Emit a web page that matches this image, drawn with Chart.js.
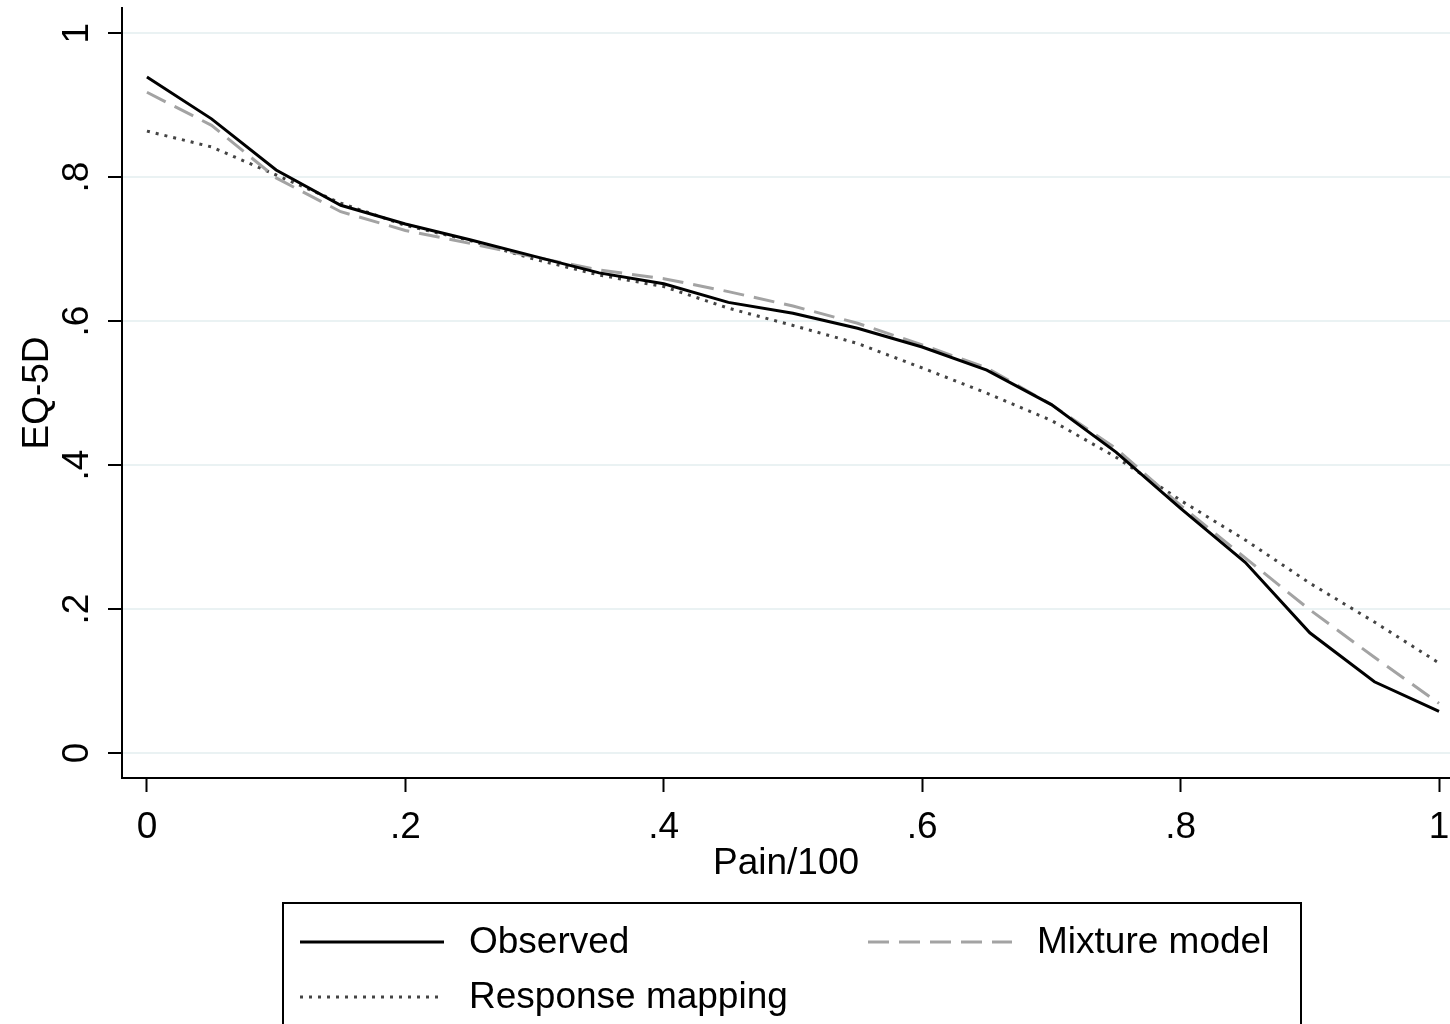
<!DOCTYPE html>
<html>
<head>
<meta charset="utf-8">
<script src="https://cdn.jsdelivr.net/npm/chart.js@4.4.1/dist/chart.umd.min.js"></script>
<style>
    body { margin: 0; background: #ffffff; }
    #wrap { width: 1450px; height: 1024px; }
</style>
</head>
<body>
<div id="wrap"><canvas id="myChart" width="1450" height="1024"></canvas></div>
<script>
// dane
const painX = [0, 0.05, 0.1, 0.15, 0.2, 0.25, 0.3, 0.35, 0.4, 0.45, 0.5,
    0.55, 0.6, 0.65, 0.7, 0.75, 0.8, 0.85, 0.9, 0.95, 1];
const observed = [0.939, 0.881, 0.810, 0.761, 0.735, 0.713, 0.690, 0.667, 0.652, 0.626, 0.611,
    0.590, 0.564, 0.532, 0.484, 0.418, 0.340, 0.265, 0.167, 0.099, 0.058];
const mixtureModel = [0.918, 0.872, 0.799, 0.752, 0.726, 0.708, 0.689, 0.671, 0.659, 0.641, 0.621,
    0.597, 0.567, 0.535, 0.484, 0.423, 0.344, 0.271, 0.199, 0.133, 0.069];
const responseMapping = [0.864, 0.842, 0.803, 0.764, 0.733, 0.712, 0.686, 0.664, 0.648, 0.618, 0.594,
    0.569, 0.535, 0.500, 0.462, 0.411, 0.351, 0.296, 0.236, 0.182, 0.125];

const xTicks = [0, 0.2, 0.4, 0.6, 0.8, 1];
const yTicks = [0, 0.2, 0.4, 0.6, 0.8, 1];
const tickLabels = ['0', '.2', '.4', '.6', '.8', '1'];
const seriesNames = ['Observed', 'Mixture model', 'Response mapping'];

const FONT = 'Liberation Sans, Arial, sans-serif';

function toPoints(values) {
    return painX.map((x, i) => ({ x: x, y: values[i] }));
}

function tickLabel(value) {
    const idx = xTicks.findIndex(t => Math.abs(t - value) < 1e-9);
    return idx >= 0 ? tickLabels[idx] : '';
}

// legenda w ramce pod wykresem (jak w Stata)
const boxLegend = {
    id: 'boxLegend',
    afterDraw(chart) {
        const ctx = chart.ctx;
        const ds = chart.data.datasets;
        const boxLeft = 283, boxTop = 903, boxRight = 1301;
        ctx.save();
        ctx.strokeStyle = '#000000';
        ctx.lineWidth = 2;
        ctx.strokeRect(boxLeft, boxTop, boxRight - boxLeft, 200);

        const slots = [
            { x: 300, y: 942 },
            { x: 868, y: 942 },
            { x: 300, y: 997 }
        ];
        ds.forEach((d, i) => {
            const s = slots[i];
            ctx.beginPath();
            ctx.strokeStyle = d.borderColor;
            ctx.lineWidth = d.borderWidth;
            ctx.setLineDash(d.borderDash || []);
            ctx.moveTo(s.x, s.y);
            ctx.lineTo(s.x + 144, s.y);
            ctx.stroke();
            ctx.setLineDash([]);
            ctx.fillStyle = '#000000';
            ctx.font = '37px ' + FONT;
            ctx.textBaseline = 'middle';
            ctx.textAlign = 'left';
            ctx.fillText(d.label, s.x + 169, s.y + 1);
        });
        ctx.restore();
    }
};

const data = {
    datasets: [
        {
            label: seriesNames[0],
            data: toPoints(observed),
            borderColor: '#000000',
            borderWidth: 3,
            pointRadius: 0,
            order: 1
        },
        {
            label: seriesNames[1],
            data: toPoints(mixtureModel),
            borderColor: '#a3a3a3',
            borderWidth: 3,
            borderDash: [21, 10],
            pointRadius: 0,
            order: 2
        },
        {
            label: seriesNames[2],
            data: toPoints(responseMapping),
            borderColor: '#444444',
            borderWidth: 3,
            borderDash: [3, 6],
            pointRadius: 0,
            order: 3
        }
    ]
};

const options = {
    responsive: false,
    animation: false,
    devicePixelRatio: 1,
    layout: { padding: { top: 8, right: 0, bottom: 138, left: 0 } },
    plugins: {
        legend: { display: false },
        tooltip: { enabled: false }
    },
    scales: {
        x: {
            type: 'linear',
            min: -0.0193,
            max: 1.0085,
            afterBuildTicks: scale => { scale.ticks = xTicks.map(v => ({ value: v })); },
            afterFit: scale => { scale.height = 108; scale.paddingLeft = 0; scale.paddingRight = 0; },
            border: { color: '#000000', width: 2 },
            grid: { drawOnChartArea: false, tickColor: '#000000', tickLength: 14, tickWidth: 2 },
            ticks: {
                color: '#000000',
                font: { family: FONT, size: 37 },
                padding: 14,
                maxRotation: 0,
                autoSkip: false,
                callback: value => tickLabel(value)
            },
            title: {
                display: true,
                text: 'Pain/100',
                color: '#000000',
                font: { family: FONT, size: 37 },
                padding: { top: 0, bottom: 0 }
            }
        },
        y: {
            type: 'linear',
            min: -0.0347,
            max: 1.035,
            afterBuildTicks: scale => { scale.ticks = yTicks.map(v => ({ value: v })); },
            afterFit: scale => { scale.width = 122; scale.paddingTop = 0; scale.paddingBottom = 0; },
            border: { color: '#000000', width: 2 },
            grid: { color: '#eaf2f3', lineWidth: 2, tickColor: '#000000', tickLength: 14, tickWidth: 2 },
            ticks: {
                color: '#000000',
                font: { family: FONT, size: 37 },
                padding: 15,
                minRotation: 90,
                maxRotation: 90,
                crossAlign: 'center',
                autoSkip: false,
                callback: value => tickLabel(value)
            },
            title: {
                display: true,
                text: 'EQ-5D',
                color: '#000000',
                font: { family: FONT, size: 37 },
                padding: { top: 16, bottom: 0 }
            }
        }
    }
};

const ctx = document.getElementById('myChart').getContext('2d');
const myChart = new Chart(ctx, {
    type: 'line',
    data: data,
    options: options,
    plugins: [boxLegend]
});
</script>
</body>
</html>
